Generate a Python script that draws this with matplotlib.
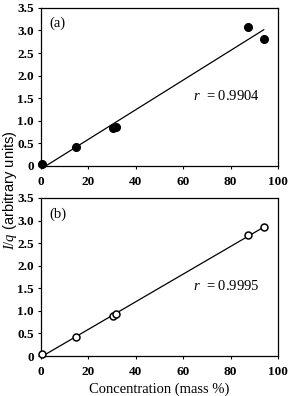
import numpy as np
import matplotlib
matplotlib.use("Agg")
import matplotlib.pyplot as plt

# ── data ───────────────────────────────────────────────────────────────────
conc_a = [0.5, 15.0, 30.5, 31.5, 87.5, 94.0]
iq_a   = [0.05, 0.43, 0.85, 0.86, 3.08, 2.82]
r_a    = "0.9904"

conc_b = [0.5, 15.0, 30.5, 31.5, 87.5, 94.0]
iq_b   = [0.04, 0.41, 0.88, 0.93, 2.68, 2.85]
r_b    = "0.9995"

x_ticks = [0, 20, 40, 60, 80, 100]
y_ticks = [0, 0.5, 1.0, 1.5, 2.0, 2.5, 3.0, 3.5]
y_tick_labels = ["0", "0.5", "1.0", "1.5", "2.0", "2.5", "3.0", "3.5"]

plt.rcParams["font.family"] = "Liberation Serif"
plt.rcParams["mathtext.fontset"] = "custom"
plt.rcParams["mathtext.it"] = "Liberation Serif:italic"
plt.rcParams["mathtext.rm"] = "Liberation Serif"

fig = plt.figure(figsize=(2.92, 3.96), dpi=100)
ax_a = fig.add_axes([0.140, 0.581, 0.812, 0.399])
ax_b = fig.add_axes([0.140, 0.101, 0.812, 0.399])


def panel(ax, x, y, filled, tag, r):
    x = np.asarray(x)
    y = np.asarray(y)
    k, b = np.polyfit(x, y, 1)
    x0 = max(0.0, -b / k)
    xs = np.array([x0, x.max()])
    ax.plot(xs, k * xs + b, color="black", lw=0.9)
    if filled:
        ax.plot(x, y, "o", color="black", ms=5.5, zorder=3, clip_on=False)
    else:
        ax.plot(x, y, "o", mfc="white", mec="black", mew=1.1, ms=5,
                zorder=3, clip_on=False)
    ax.set_xlim(0, 100)
    ax.set_ylim(0, 3.5)
    ax.set_xticks(x_ticks)
    ax.set_yticks(y_ticks)
    ax.set_yticklabels(y_tick_labels)
    ax.tick_params(direction="out", length=2.5, width=0.8, labelsize=9.5)
    ax.tick_params(axis="x", pad=5)
    ax.tick_params(axis="y", pad=2.5)
    for lbl in ax.get_xticklabels() + ax.get_yticklabels():
        lbl.set_fontweight("bold")
    for s in ax.spines.values():
        s.set_linewidth(0.9)
    ax.text(7, 3.15, tag, fontsize=10.5, ha="center", va="center")
    ax.text(64, 1.55, r"$r$  = " + r, fontsize=10.5, ha="left", va="center")


panel(ax_a, conc_a, iq_a, True, "(a)", r_a)
panel(ax_b, conc_b, iq_b, False, "(b)", r_b)

ax_b.set_xlabel("Concentration (mass %)", fontsize=10.5, labelpad=3)
fig.text(0.034, 0.52, r"$I/q$ (arbitrary units)", rotation=90, fontsize=10.5,
         ha="center", va="center", family="Liberation Sans")

fig.savefig("out.png", dpi=100)
